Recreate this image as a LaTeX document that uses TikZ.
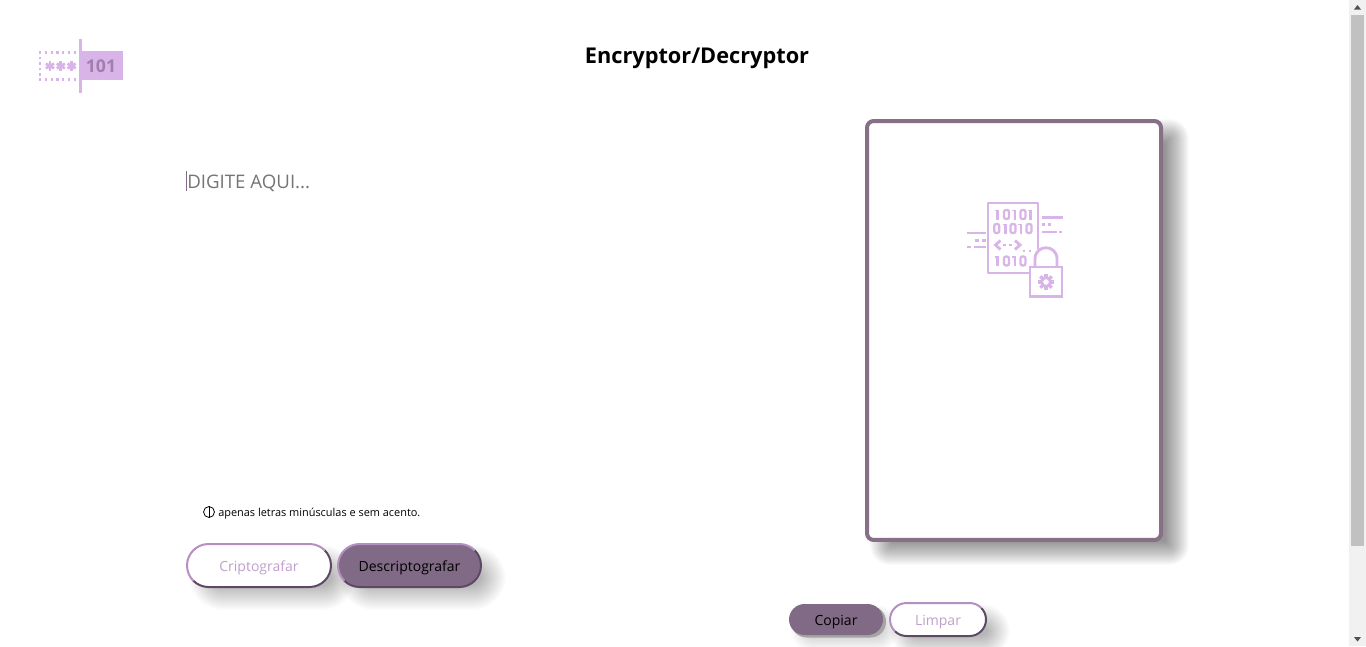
\documentclass[tikz,border=0pt]{standalone}
\usepackage{fontspec}
\setmainfont{Open Sans}
\usetikzlibrary{calc}
\definecolor{lilac}{HTML}{D8B4E8}
\definecolor{lilacdark}{HTML}{A080AA}
\definecolor{plum}{HTML}{816A85}
\definecolor{panelplum}{HTML}{876F88}
\definecolor{bevellight}{HTML}{B68FC2}
\definecolor{beveldark}{HTML}{5C4A64}
\definecolor{labelpurple}{HTML}{C09FCC}
\definecolor{placeholder}{HTML}{757575}
\definecolor{scrolltrack}{HTML}{F1F1F1}
\definecolor{scrollthumb}{HTML}{C1C1C1}
\definecolor{scrollarrow}{HTML}{505050}
\tikzset{
  pagetext/.style={inner sep=0pt, anchor=center},
  iconline/.style={draw=lilac, line width=2.1pt, line cap=butt},
  pillbox/.style={rectangle, inner sep=0pt},
  btnfont/.style={font=\fontsize{10.5pt}{12pt}\selectfont},
}
% soft shadow: x1 y1 x2 y2 radius blur layer-opacity
\newcommand{\softshade}[7]{%
  \foreach \i in {0,...,23}{%
    \pgfmathsetmacro{\dd}{#6-2*#6*\i/23}%
    \pgfmathsetmacro{\rr}{max(0.5,(#5+\dd)*0.75)}%
    \fill[black, opacity=#7, rounded corners=\rr pt] ({#1-\dd},{#2-\dd}) rectangle ({#3+\dd},{#4+\dd});
  }}
% bevel button: name x1 y1 x2 y2 fill text-colour text
\newcommand{\bevelbtn}[8]{%
  \pgfmathsetmacro{\bw}{(#4-#2)*0.75}%
  \pgfmathsetmacro{\bh}{(#5-#3)*0.75}%
  \pgfmathsetmacro{\bcx}{(#2+#4)/2}%
  \pgfmathsetmacro{\bcy}{(#3+#5)/2}%
  \pgfmathsetmacro{\br}{(#5-#3)/2}%
  \pgfmathsetmacro{\brp}{\br*0.75}%
  \fill[#6, rounded corners=\brp pt] (#2,#3) rectangle (#4,#5);
  \begin{scope}
    \clip ({#2+\br},\bcy) -- ({#4-\br},\bcy) -- ({#4+5},{\bcy-\br-5}) -- ({#4+5},{#5+5}) -- ({#2-5},{#5+5}) -- cycle;
    \draw[beveldark, line width=1.5pt, rounded corners=\brp pt] (#2,#3) rectangle (#4,#5);
  \end{scope}
  \begin{scope}
    \clip ({#2+\br},\bcy) -- ({#4-\br},\bcy) -- ({#4+5},{\bcy-\br-5}) -- ({#4+5},{#3-5}) -- ({#2-5},{#3-5}) -- ({#2-5},{#5+5}) -- cycle;
    \draw[bevellight, line width=1.5pt, rounded corners=\brp pt] (#2,#3) rectangle (#4,#5);
  \end{scope}
  \node[pillbox, btnfont, minimum width=\bw pt, minimum height=\bh pt, text=#7] (#1) at (\bcx,{\bcy+2.5}) {#8};
}
% binary glyphs
\newcommand{\bitone}[2]{\draw[lilac, line width=2.1pt] (#1,{#2-.5}) -- (#1,{#2+9.5}); \draw[lilac, line width=1.2pt] ({#1-3},{#2+.5}) -- (#1,{#2+.5});}
\newcommand{\bitzero}[2]{\draw[lilac, line width=1.7pt, rounded corners=1.5pt] ({#1-2.5},#2) rectangle ({#1+2.5},{#2+9});}
\newcommand{\logostar}[2]{\foreach \a in {30,90,150}{\draw[lilac, line width=2.1pt] ($(#1,#2)+(\a:4.7)$) -- ($(#1,#2)+(\a+180:4.7)$);}}
\begin{document}
\begin{tikzpicture}[x=0.75pt, y=-0.75pt]
\useasboundingbox (0,0) rectangle (1366,646);
\fill[white] (0,0) rectangle (1366,646);

% scrollbar
\fill[scrolltrack] (1349,0) rectangle (1366,646);
\fill[scrollthumb] (1351,15) rectangle (1364,546);
\fill[scrollarrow] (1357.5,5) -- (1361,9.5) -- (1354,9.5) -- cycle;
\fill[scrollarrow] (1354,637) -- (1361,637) -- (1357.5,641.5) -- cycle;

% logo
\fill[lilac] (81,51) rectangle (123,80);
\draw[lilac, line width=2.2pt] (80.5,39) -- (80.5,93);
\node[pagetext, text=lilacdark, font=\fontsize{13.2pt}{15pt}\bfseries\selectfont] (logonum) at (101,66) {101};
\foreach \px in {40,46,52,57.5,63,69,75}{
  \fill[lilac] ({\px-1.4},50.8) rectangle ({\px+1.4},53.6);
  \fill[lilac] ({\px-1.4},78) rectangle ({\px+1.4},80.8);
}
\foreach \py in {58,63.5,69,74.5}{\fill[lilac] (38.6,{\py-1.4}) rectangle (41.4,{\py+1.4});}
\logostar{50}{66}\logostar{60.8}{66}\logostar{71.6}{66}

% title
\node[pagetext, font=\fontsize{16.3pt}{20pt}\bfseries\selectfont, text=black] (title) at (697,58.5) {Encryptor/Decryptor};

% input
\node[pagetext, anchor=west, text=placeholder, font=\fontsize{14pt}{16pt}\selectfont] (prompt) at (187,183) {DIGITE AQUI...};
\coordinate (caretA) at (186,171);
\coordinate (caretB) at (186,191);
\draw[plum, line width=0.75pt] (caretA) -- (caretB);

% hint
\node[draw=black, circle, line width=0.6pt, minimum size=8.2pt, inner sep=0pt] (hinticon) at (209,512) {};
\draw[black, line width=0.7pt] (hinticon.north) -- (hinticon.south);
\node[pagetext, anchor=west, text=black, font=\fontsize{8.2pt}{10pt}\selectfont] (hint) at (218,513.5) {apenas letras minúsculas e sem acento.};

% shadows
\softshade{882}{131}{1177}{553}{8}{12}{0.018}
\softshade{201}{557}{344}{598}{22}{12}{0.011}
\softshade{351}{557}{494}{598}{22}{12}{0.012}
\softshade{901}{615}{999}{647}{17}{11}{0.012}
\softshade{799}{613}{890}{643}{15}{9}{0.008}

% buttons
\bevelbtn{encrypt}{187}{544}{331}{587}{white}{labelpurple}{Criptografar}
\bevelbtn{decrypt}{338}{544}{481}{587}{plum}{black}{Descriptografar}
\fill[scrollthumb!85!black, rounded corners=11.7pt] (791,606) rectangle (886,637.5);
\fill[plum, rounded corners=11.7pt] (789,604) rectangle (883,635);
\node[pillbox, btnfont, minimum width=70.5pt, minimum height=23.5pt, text=black] (copy) at (836,622) {Copiar};
\bevelbtn{clear}{890}{603}{986}{636}{white}{labelpurple}{Limpar}

% output panel
\node[draw=panelplum, fill=white, line width=3pt, rounded corners=5pt, minimum width=220.5pt, minimum height=314.2pt, inner sep=0pt] (panel) at (1014,330.5) {};

% icon: document
\draw[iconline, line join=round] (1030,273) -- (988,273) -- (988,203) -- (1038,203) -- (1038,249);
\bitone{997.5}{210}\bitzero{1006.5}{210}\bitone{1015}{210}\bitzero{1023}{210}\bitone{1030.5}{210}
\bitzero{996.7}{224}\bitone{1005.7}{224}\bitzero{1013}{224}\bitone{1021}{224}\bitzero{1029}{224}
\bitone{997.5}{256.5}\bitzero{1006.5}{256.5}\bitone{1015}{256.5}\bitzero{1023}{256.5}
% code row
\draw[iconline] (1000.5,240.5) -- (995.5,245) -- (1000.5,249.5);
\draw[iconline] (1015,240.5) -- (1020,245) -- (1015,249.5);
\foreach \px/\py in {1004.5/245,1010.5/245,1024/251,1030/251}{\fill[lilac] ({\px-1.4},{\py-1.4}) rectangle ({\px+1.4},{\py+1.4});}
% side lines
\draw[iconline] (1042,217.5) -- (1063,217.5);
\draw[iconline] (1042,232) -- (1057,232);
\draw[iconline] (967,233) -- (986,233);
\draw[iconline] (974,247) -- (986,247);
\draw[iconline] (967,247) -- (971,247);
\foreach \px/\py in {1043.5/224.5,1049.5/224.5,1060.5/232,977/240.5,984/240.5}{\fill[lilac] ({\px-1.6},{\py-1.4}) rectangle ({\px+1.6},{\py+1.4});}
% icon: lock
\draw[iconline] (1035,267) -- (1035,259) .. controls (1035,244) and (1057,244) .. (1057,259) -- (1057,267);
\draw[iconline] (1030,267) rectangle (1062,296.5);
% gear
\draw[lilac, line width=2.2pt] (1046,282) circle[radius=4.5];
\foreach \a in {0,45,...,315}{\draw[lilac, line width=2.4pt] ($(1046,282)+(\a:5)$) -- ($(1046,282)+(\a:8)$);}
\end{tikzpicture}
\end{document}
